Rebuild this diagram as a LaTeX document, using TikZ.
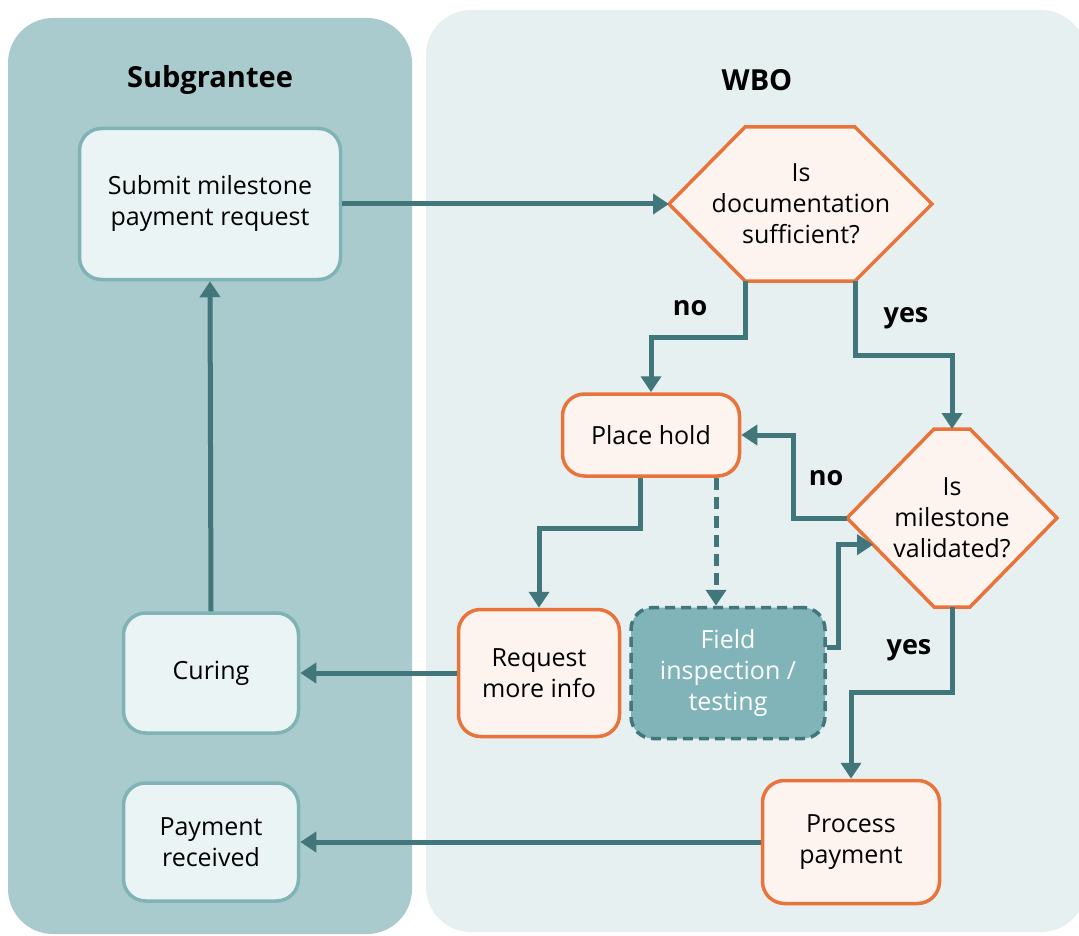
\documentclass[tikz,border=0pt]{standalone}
\usepackage{fontspec}
\setmainfont{Open Sans}
\usepackage{xcolor}
\usetikzlibrary{arrows.meta,positioning,calc}

\definecolor{subpanel}{HTML}{AACBCD}
\definecolor{wbopanel}{HTML}{E6F0F0}
\definecolor{subline}{HTML}{7FB3B6}
\definecolor{subfill}{HTML}{EBF4F4}
\definecolor{wboline}{HTML}{E8743B}
\definecolor{wbofill}{HTML}{FDF4F0}
\definecolor{fieldfill}{HTML}{80B4B8}
\definecolor{flowcol}{HTML}{41767A}

\tikzset{
  stepbox/.style={rectangle, rounded corners=22pt, line width=3.5pt, align=center,
    font=\fontsize{25}{31}\selectfont},
  subbox/.style={stepbox, draw=subline, fill=subfill},
  wbobox/.style={stepbox, draw=wboline, fill=wbofill},
  fieldbox/.style={stepbox, draw=flowcol, fill=fieldfill, dash pattern=on 10pt off 6pt, text=white},
  hexline/.style={draw=wboline, fill=wbofill, line width=3.5pt},
  decision/.style={align=center, font=\fontsize{25}{31}\selectfont},
  flow/.style={draw=flowcol, line width=5pt, -{Triangle[width=20pt,length=16pt]}},
  answer/.style={font=\bfseries\fontsize{27}{30}\selectfont},
  lanetitle/.style={font=\bfseries\fontsize{29}{32}\selectfont}
}

\begin{document}
\begin{tikzpicture}[x=1pt, y=-1pt]
  \useasboundingbox (0,0) rectangle (1079,936);
  \fill[subpanel, rounded corners=45pt] (8,18) rectangle (412,934);
  \fill[wbopanel, rounded corners=45pt] (426,10) rectangle (1086,932);
  \node[lanetitle] (subtitle) at (210,80) {Subgrantee};
  \node[lanetitle] (wbotitle) at (757,80) {WBO};

  \node[subbox, minimum width=261pt, minimum height=151pt] (submit) at (210,204) {Submit milestone\\payment request};
  \node[subbox, minimum width=175pt, minimum height=120pt] (curing) at (211,673) {Curing};
  \node[subbox, minimum width=175pt, minimum height=118pt] (payrec) at (211,842) {Payment\\received};

  \coordinate (docc) at (801,204);
  \coordinate (docw) at ($(docc)+(-132,0)$);
  \coordinate (docsw) at ($(docc)+(-56,77)$);
  \coordinate (docse) at ($(docc)+(54,77)$);
  \draw[hexline] (docw) -- ($(docc)+(-56,-77)$) -- ($(docc)+(54,-77)$) -- ($(docc)+(131,0)$)
    -- (docse) -- (docsw) -- cycle;
  \node[decision] (doc) at (docc) {Is\\documentation\\sufficient?};

  \coordinate (milc) at (952,518);
  \coordinate (milw) at ($(milc)+(-105,0)$);
  \coordinate (milt) at ($(milc)+(0,-89)$);
  \coordinate (mils) at ($(milc)+(0,89)$);
  \coordinate (milsw) at ($(milc)+(-18,89)$);
  \draw[hexline] (milw) -- ($(milc)+(-18,-89)$) -- ($(milc)+(18,-89)$) -- ($(milc)+(105,0)$)
    -- ($(milc)+(18,89)$) -- (milsw) -- cycle;
  \coordinate (milin) at ($(milw)!0.3!(milsw)$);
  \node[decision] (mil) at (milc) {Is\\milestone\\validated?};

  \node[wbobox, minimum width=177pt, minimum height=82pt] (hold) at (651,435) {Place hold};
  \node[wbobox, minimum width=161pt, minimum height=127pt] (request) at (539,673) {Request\\more info};
  \node[fieldbox, minimum width=194pt, minimum height=131pt] (field) at (728,673) {Field\\inspection /\\testing};
  \node[wbobox, minimum width=177pt, minimum height=123pt] (process) at (851,842) {Process\\payment};

  \draw[flow] (submit.east) -- (docw);
  \draw[flow] (docsw) -- ++(0,56) -| (hold.north);
  \draw[flow] (docse) -- ++(0,74) -| (milt);
  \draw[flow] (milw) -- ++(-54,0) |- (hold.east);
  \draw[flow] ($(hold.south)+(-11,0)$) -- ++(0,51) -| (request.north);
  \draw[flow, dashed, dash pattern=on 12pt off 7pt] ($(hold.south)+(65,0)$) coordinate (holdd) -- (holdd |- field.north);
  \draw[flow] ($(field.east)+(0,-26)$) -- ++(12,0) |- (milin);
  \draw[flow] (mils) -- ++(0,85) -| (process.north);
  \draw[flow] (request.west) -- (curing.east);
  \draw[flow] (process.west) -- (payrec.east);
  \draw[flow] (curing.north) -- (submit.south);

  \node[answer] (docno) at (690,308) {no};
  \node[answer] (docyes) at (906,318) {yes};
  \node[answer] (milno) at (826,478) {no};
  \node[answer] (milyes) at (909,650) {yes};
\end{tikzpicture}
\end{document}
